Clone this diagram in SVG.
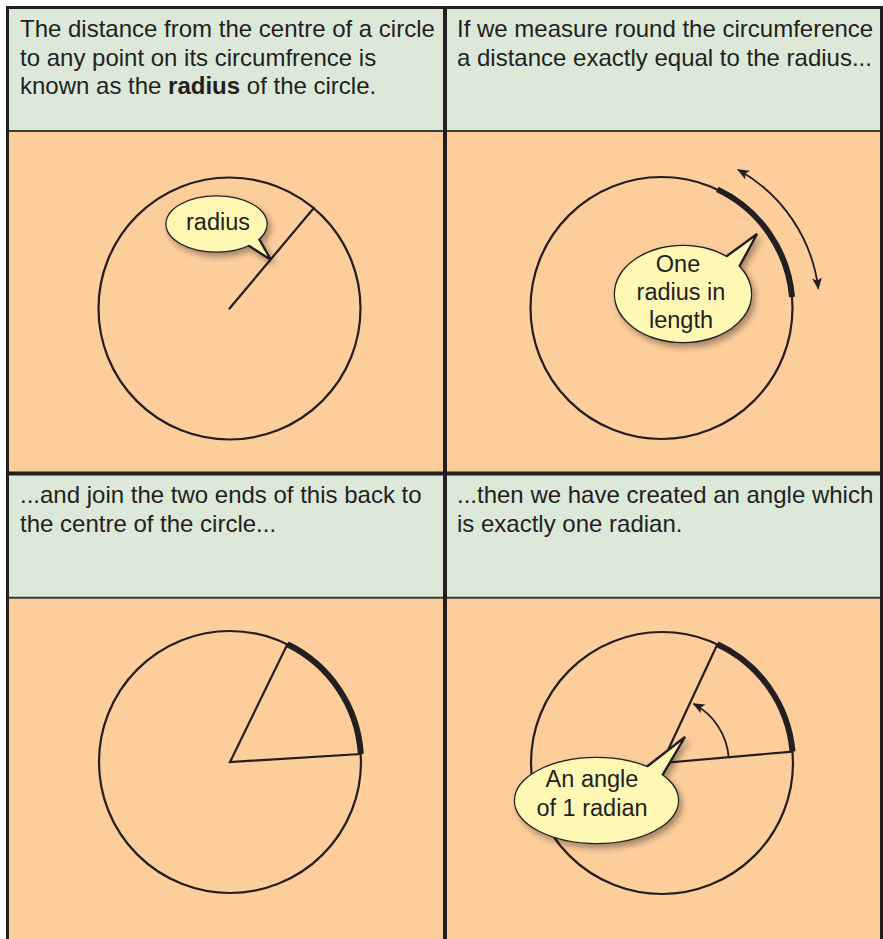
<svg xmlns="http://www.w3.org/2000/svg" width="883" height="939" viewBox="0 0 883 939">
<defs>
<style>
.hdr{fill:#dce9d9}
.body{fill:#fdcd9b}
.sep{stroke:#3c3c3c;stroke-width:2;fill:none}
.border{stroke:#231f20;fill:none}
.txt{font-family:"Liberation Sans",Arial,sans-serif;font-size:24px;fill:#231f20}
.ctxt{font-family:"Liberation Sans",Arial,sans-serif;font-size:23.5px;fill:#231f20;text-anchor:middle}
.circ{fill:none;stroke:#231f20;stroke-width:2.2}
.ln{fill:none;stroke:#231f20;stroke-width:2.2;stroke-linecap:round}
.thick{fill:none;stroke:#231f20;stroke-width:6;stroke-linecap:butt}
.arr{fill:none;stroke:#231f20;stroke-width:1.8}
.bub{fill:#fff8b4;stroke:#231f20;stroke-width:2.4}
.bubf{fill:#fff8b4;stroke:none}
</style>
<marker id="ah" viewBox="0 0 12 10" refX="11" refY="5" markerWidth="12" markerHeight="10" markerUnits="userSpaceOnUse" orient="auto-start-reverse">
<path d="M0,0 L12,5 L0,10 L3,5 z" fill="#231f20"/>
</marker>
<filter id="sh" x="-30%" y="-30%" width="160%" height="170%">
<feDropShadow dx="3" dy="4" stdDeviation="3" flood-color="#000" flood-opacity="0.35"/>
</filter>
</defs>

<!-- backgrounds -->
<g id="backgrounds">
<rect x="8" y="8" width="875" height="123" class="hdr"/>
<rect x="8" y="131" width="875" height="343" class="body"/>
<rect x="8" y="474" width="875" height="124" class="hdr"/>
<rect x="8" y="598" width="875" height="341" class="body"/>
<line x1="8" y1="131" x2="883" y2="131" class="sep"/>
<line x1="8" y1="597.7" x2="883" y2="597.7" class="sep"/>
</g>

<!-- frame -->
<g id="frame">
<line x1="6" y1="7.5" x2="883" y2="7.5" class="border" stroke-width="3"/>
<line x1="7.5" y1="6" x2="7.5" y2="939" class="border" stroke-width="3"/>
<line x1="881.5" y1="6" x2="881.5" y2="939" class="border" stroke-width="3"/>
<line x1="445" y1="6" x2="445" y2="939" class="border" stroke-width="4"/>
<line x1="6" y1="473.5" x2="883" y2="473.5" class="border" stroke-width="4"/>
</g>

<!-- panel 1 -->
<g id="panel1">
<text class="txt" x="20" y="37">The distance from the centre of a circle</text>
<text class="txt" x="20" y="65.5">to any point on its circumfrence is</text>
<text class="txt" x="20" y="94">known as the <tspan font-weight="bold">radius</tspan> of the circle.</text>
<circle cx="229.5" cy="308.5" r="131" class="circ"/>
<line x1="229.5" y1="308.5" x2="314" y2="207.8" class="ln"/>
<g id="callout-radius">
<g filter="url(#sh)">
<ellipse cx="216.5" cy="224" rx="50" ry="27.5" class="bub"/>
<polygon points="240,240 271,260 254,230" class="bub" stroke-linejoin="miter"/>
<ellipse cx="216.5" cy="224" rx="50" ry="27.5" class="bubf"/>
</g>
<text class="ctxt" x="218" y="230">radius</text>
</g>
</g>

<!-- panel 2 -->
<g id="panel2">
<text class="txt" x="457" y="37">If we measure round the circumference</text>
<text class="txt" x="457" y="65.5">a distance exactly equal to the radius...</text>
<circle cx="661.5" cy="308" r="131" class="circ"/>
<path d="M717.3,189.4 A131,131 0 0 1 792,297" class="thick"/>
<path d="M738.1,169.8 A158,158 0 0 1 818.3,288.7" class="arr" marker-start="url(#ah)" marker-end="url(#ah)"/>
<g id="callout-one-radius">
<g filter="url(#sh)">
<ellipse cx="683" cy="294" rx="68" ry="48" class="bub"/>
<polygon points="716,264 757,234 732,280" class="bub"/>
<ellipse cx="683" cy="294" rx="68" ry="48" class="bubf"/>
</g>
<text class="ctxt" x="678" y="272">One</text>
<text class="ctxt" x="681" y="300">radius in</text>
<text class="ctxt" x="681" y="328">length</text>
</g>
</g>

<!-- panel 3 -->
<g id="panel3">
<text class="txt" x="20" y="503">...and join the two ends of this back to</text>
<text class="txt" x="20" y="532">the centre of the circle...</text>
<circle cx="230" cy="762" r="131" class="circ"/>
<path d="M287.4,644.3 A131,131 0 0 1 360.8,754" class="thick"/>
<polyline points="287.4,644.3 230,762 360.8,754" class="ln" stroke-linejoin="miter"/>
</g>

<!-- panel 4 -->
<g id="panel4">
<text class="txt" x="457" y="503">...then we have created an angle which</text>
<text class="txt" x="457" y="532">is exactly one radian.</text>
<circle cx="662" cy="763" r="131" class="circ"/>
<path d="M717.4,644.3 A131,131 0 0 1 792.5,751.6" class="thick"/>
<polyline points="717.4,644.3 662,763 792.5,751.6" class="ln" stroke-linejoin="miter"/>
<path d="M728.7,757.2 A67,67 0 0 0 693.5,703.8" class="arr" marker-end="url(#ah)"/>
<g id="callout-angle">
<g filter="url(#sh)">
<ellipse cx="596.5" cy="800.5" rx="81.5" ry="42.5" class="bub"/>
<polygon points="640,772 685,737 656,786" class="bub"/>
<ellipse cx="596.5" cy="800.5" rx="81.5" ry="42.5" class="bubf"/>
</g>
<text class="ctxt" x="592" y="787">An angle</text>
<text class="ctxt" x="592" y="816">of 1 radian</text>
</g>
</g>
</svg>
